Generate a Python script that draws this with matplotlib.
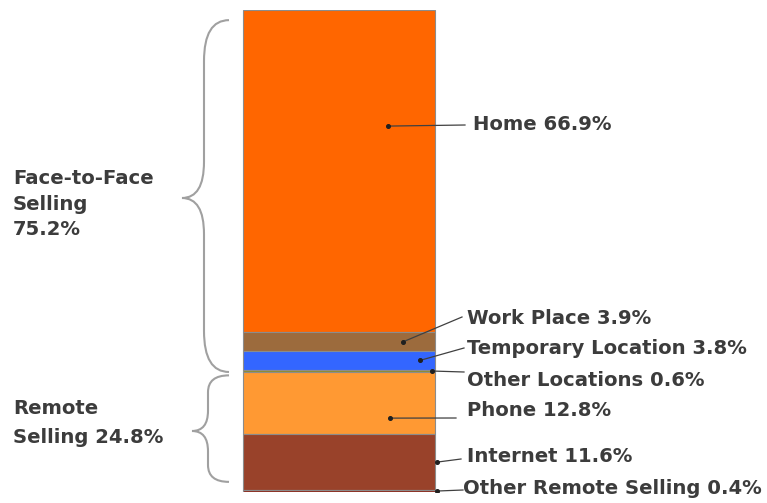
import matplotlib

matplotlib.use("Agg")
import matplotlib.pyplot as plt
import numpy as np
from matplotlib.path import Path
from matplotlib.patches import PathPatch

# segments, top to bottom as they appear in the bar
labels = ["Home", "Work Place", "Temporary Location", "Other Locations",
          "Phone", "Internet", "Other Remote Selling"]
shares = [66.9, 3.9, 3.8, 0.6, 12.8, 11.6, 0.4]
colors = ["#FF6600", "#9C6B3D", "#3366FF", "#8C8C2A",
          "#FF9933", "#99422A", "#8E2A1C"]

group_labels = ["Face-to-Face\nSelling\n75.2%", "Remote\nSelling 24.8%"]
group_shares = [75.2, 24.8]

W, H = 767, 503
BAR_TOP, BAR_BOT = 10, 492
INK = "#3C3C3C"
FS = 14.1


def py(p):
    # pixel row -> percent on the bar scale
    return (BAR_BOT - p) / (BAR_BOT - BAR_TOP) * 100


fig = plt.figure(figsize=(W / 100, H / 100), dpi=100)
ax = fig.add_axes([0, (H - BAR_BOT) / H, 1, (BAR_BOT - BAR_TOP) / H])
ax.set_xlim(0, W)
ax.set_ylim(0, 100)
ax.axis("off")

shares_arr = np.array(shares)
bottoms = 100 - np.cumsum(shares_arr)
ax.bar(339, shares_arr, width=192, bottom=bottoms, color=colors,
       edgecolor="#8C8C8C", linewidth=0.8)

# leader lines: (dot x, position inside segment), line end, text position
anchors = [
    (388, 0.64, (465, 125), (473, 125)),
    (403, 0.5, (462, 317), (467, 318)),
    (420, 0.5, (464, 348), (467, 349)),
    (432, 0.5, (464, 372), (467, 380)),
    (390, 0.26, (456, 418), (467, 411)),
    (437, 0.5, (461, 459), (467, 456)),
    (437, 0.5, (463, 490), (463, 489)),
]
for lab, val, b, (dx, fr, (ex, ey), (tx, ty)) in zip(labels, shares, bottoms, anchors):
    dy = b + val * fr
    ax.plot([dx, ex], [dy, py(ey)], color="#404040", lw=0.9)
    ax.plot(dx, dy, "o", color="#202020", ms=2.6)
    ax.text(tx, py(ty), f"{lab} {val}%", fontsize=FS, fontweight="bold",
            color=INK, ha="left", va="center", family="DejaVu Sans")


def brace(x_end, x_mid, x_tip, y0, y1, ym, r_end, r_tip):
    verts = [(x_end, y0), (x_mid, y0), (x_mid, y0 - r_end),
             (x_mid, ym + r_tip), (x_mid, ym), (x_tip, ym),
             (x_mid, ym), (x_mid, ym - r_tip),
             (x_mid, y1 + r_end), (x_mid, y1), (x_end, y1)]
    codes = [Path.MOVETO, Path.CURVE3, Path.CURVE3,
             Path.LINETO, Path.CURVE3, Path.CURVE3,
             Path.CURVE3, Path.CURVE3,
             Path.LINETO, Path.CURVE3, Path.CURVE3]
    ax.add_patch(PathPatch(Path(verts, codes), fill=False,
                           edgecolor="#A0A0A0", lw=1.5))


# group braces
face_top, face_bot = group_shares[1] + 0.1, 100 - 2.1
brace(229, 204, 182, face_bot, face_top, py(198), 8.5, 7.5)
brace(229, 208, 192, group_shares[1] - 0.6, 2.1, py(431), 3.5, 4.2)

ax.text(13, py(204), group_labels[0], fontsize=FS, fontweight="bold",
        color=INK, ha="left", va="center", linespacing=1.45)
ax.text(13, py(423), group_labels[1], fontsize=FS, fontweight="bold",
        color=INK, ha="left", va="center", linespacing=1.65)

fig.savefig("out.png", dpi=100)
